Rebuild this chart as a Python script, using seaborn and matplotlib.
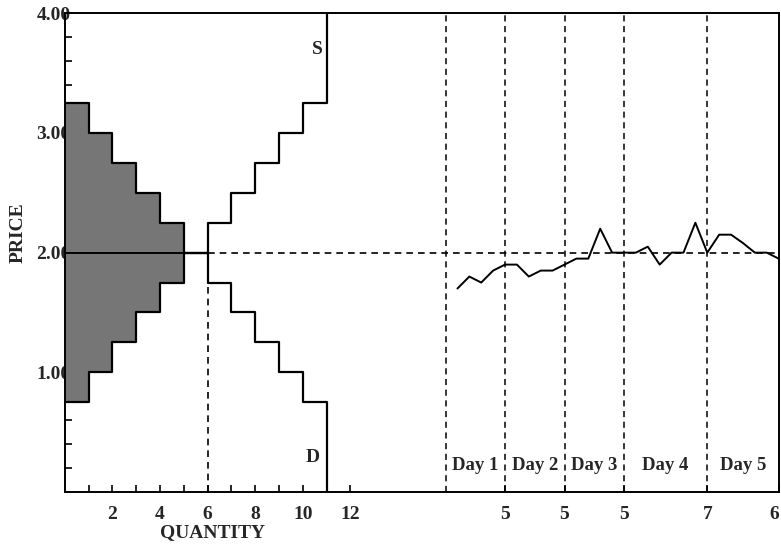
import numpy as np
import matplotlib.pyplot as plt
import seaborn as sns
from matplotlib.ticker import FixedLocator, MultipleLocator

# unit costs (supply) and unit values (demand), one per unit of quantity
supply_cost = [0.75, 1.00, 1.25, 1.50, 1.75, 2.00, 2.25, 2.50, 2.75, 3.00, 3.25]
demand_value = [3.25, 3.00, 2.75, 2.50, 2.25, 2.00, 1.75, 1.50, 1.25, 1.00, 0.75]
eq_price = 2.00
eq_quantity = 6
surplus_units = 5

# contract prices, trade by trade, over five trading days
trades_per_day = [5, 5, 5, 7, 6]
day_labels = ["Day 1", "Day 2", "Day 3", "Day 4", "Day 5"]
prices = [1.70, 1.80, 1.75, 1.85, 1.90,
          1.90, 1.80, 1.85, 1.85, 1.90,
          1.95, 1.95, 2.20, 2.00, 2.00,
          2.00, 2.05, 1.90, 2.00, 2.00, 2.25, 2.00,
          2.15, 2.15, 2.08, 2.00, 2.00, 1.95]

qty_ticks = [2, 4, 6, 8, 10, 12]
price_ticks = [1.00, 2.00, 3.00, 4.00]

# where the price series sits on the quantity axis
series_start = 16
trade_step = 0.5
price_max = 4.0

sns.set_theme(style="ticks")
plt.rcParams["font.family"] = ["Liberation Serif", "DejaVu Serif"]
plt.rcParams["font.weight"] = "bold"

fig = plt.figure(figsize=(7.81, 5.44), dpi=100)
ax = fig.add_axes([0.083, 0.0956, 0.914, 0.880])

edges = np.arange(len(supply_cost) + 1)


def steps(vals):
    return np.repeat(edges, 2)[1:-1], np.repeat(vals, 2)


# surplus area between demand and supply for the inframarginal units
x_fill = edges[:surplus_units + 1]
lo = supply_cost[:surplus_units] + [supply_cost[surplus_units - 1]]
hi = demand_value[:surplus_units] + [demand_value[surplus_units - 1]]
ax.fill_between(x_fill, lo, hi, step="post", color="#767676", lw=0)

sx, sy = steps(supply_cost)
sx = np.append(sx, edges[-1])
sy = np.append(sy, price_max)
dx, dy = steps(demand_value)
dx = np.append(dx, edges[-1])
dy = np.append(dy, 0)
sns.lineplot(x=sx, y=sy, sort=False, estimator=None, color="black", lw=1.6, ax=ax)
sns.lineplot(x=dx, y=dy, sort=False, estimator=None, color="black", lw=1.6, ax=ax)

dash = (0, (4, 3))
ax.hlines(eq_price, 0, eq_quantity, color="black", lw=1.4)
ax.hlines(eq_price, eq_quantity, series_start + trade_step * sum(trades_per_day),
          color="black", lw=1.2, ls=dash)
ax.vlines(eq_quantity, 0, demand_value[eq_quantity], color="black", lw=1.2, ls=dash)

# day boundaries and the price series
bounds = series_start + trade_step * np.concatenate([[0], np.cumsum(trades_per_day)])
ax.vlines(bounds[:-1], 0, price_max, color="black", lw=1.1, ls=dash)
trade_x = series_start + trade_step * np.arange(1, len(prices) + 1)
sns.lineplot(x=trade_x, y=prices, sort=False, estimator=None, color="black", lw=1.4, ax=ax)

for i, lab in enumerate(day_labels):
    ax.text((bounds[i] + bounds[i + 1]) / 2, 0.22, lab, ha="center", va="center",
            fontsize=13.5, fontweight="bold")

ax.text(10.6, 3.70, "S", ha="center", va="center", fontsize=14, fontweight="bold")
ax.text(10.4, 0.29, "D", ha="center", va="center", fontsize=14, fontweight="bold")

ax.set_xlim(0, bounds[-1])
ax.set_ylim(0, price_max)

ax.set_xticks(qty_ticks + list(bounds[1:]))
ax.set_xticklabels([str(t) for t in qty_ticks] + [str(n) for n in trades_per_day])
ax.get_xticklabels()[-1].set_horizontalalignment("right")
ax.xaxis.set_minor_locator(FixedLocator([1, 3, 5, 7, 9, 11]))
ax.set_yticks(price_ticks)
ax.set_yticklabels([f"{p:.2f}" for p in price_ticks])
ax.yaxis.set_minor_locator(MultipleLocator(0.2))

ax.tick_params(which="both", direction="in", color="black", width=1.2)
ax.tick_params(which="major", length=5, labelsize=14)
ax.tick_params(which="minor", length=5)
ax.tick_params(axis="x", pad=10)
ax.tick_params(axis="y", pad=-4)
for s in ax.spines.values():
    s.set_color("black")
    s.set_linewidth(1.4)

ax.set_xlabel("")
ax.set_ylabel("")
fig.text(18 / 781, 1 - 233 / 544, "PRICE", rotation=90, ha="center", va="center",
         fontsize=14, fontweight="bold")
fig.text(213 / 781, 1 - 533 / 544, "QUANTITY", ha="center", va="center",
         fontsize=14, fontweight="bold")

fig.savefig("out.png", dpi=100)
